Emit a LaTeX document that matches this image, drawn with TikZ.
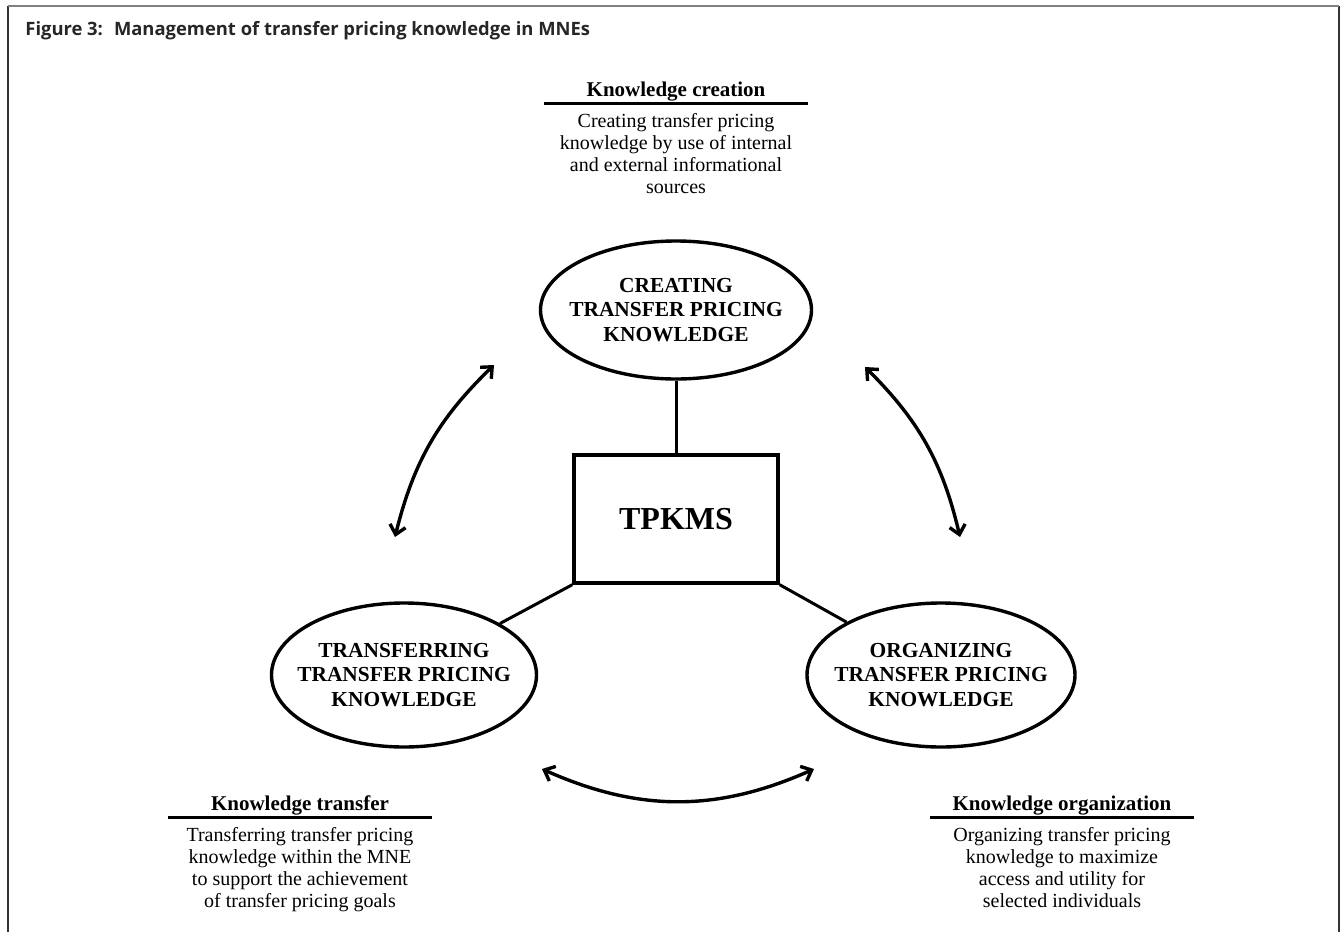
\documentclass[tikz,border=0pt]{standalone}
\usepackage{fontspec}
\setmainfont{Liberation Serif}
\newfontfamily\titlefont{Open Sans}
\usepackage{tikz}
\usetikzlibrary{arrows.meta}
\usetikzlibrary{shapes.geometric}
\usetikzlibrary{positioning}

\begin{document}
\begin{tikzpicture}[x=0.5pt, y=-0.5pt,
    phase/.style={ellipse, draw, line width=1.7pt, minimum width=134pt, minimum height=72pt,
      inner xsep=-10pt, inner ysep=0pt, align=center, font=\fontsize{10.7}{12.25}\selectfont\bfseries},
    link/.style={line width=1.5pt},
    cycle/.style={line width=1.7pt, {Straight Barb[length=4.5pt,width=8pt]}-{Straight Barb[length=4.5pt,width=8pt]}},
    head/.style={minimum width=131.5pt, inner xsep=0pt, inner ysep=0.5pt, text depth=2.5pt,
      anchor=south, font=\fontsize{10.5}{12}\selectfont\bfseries},
    body/.style={inner ysep=5.2pt, align=center, font=\fontsize{10}{11}\selectfont}]
  \useasboundingbox (0,0) rectangle (1340,932);
  % Frame and title
  \draw[black!80, line width=0.8pt] (8,932) -- (8,6);
  \draw[black!80, line width=0.8pt] (1339,6) -- (1339,932);
  \draw[black!50, line width=1pt] (8,6) -- (1339,6);
  \node[anchor=west, inner sep=0pt, text=black!85, font=\titlefont\bfseries\fontsize{9.2}{11}\selectfont]
    (title) at (25,31) {Figure 3:\hspace{0.6em}Management of transfer pricing knowledge in MNEs};

  % Knowledge management system
  \node[draw, line width=1.7pt, minimum width=102pt, minimum height=64pt,
    font=\fontsize{16}{18}\selectfont\bfseries] (tpkms) at (676,519) {TPKMS};
  \node[phase, minimum width=135.5pt, minimum height=69pt] (create) at (676,310)
    {CREATING\\TRANSFER PRICING\\KNOWLEDGE};
  \node[phase, minimum width=132.5pt] (transfer) at (404,675)
    {TRANSFERRING\\TRANSFER PRICING\\KNOWLEDGE};
  \node[phase] (organize) at (941,675)
    {ORGANIZING\\TRANSFER PRICING\\KNOWLEDGE};

  \draw[link] (create) -- (tpkms);
  \draw[link] (tpkms.south west) -- (transfer);
  \draw[link] (tpkms.south east) -- (organize);

  % Cycle arrows
  \coordinate (ltail) at (395,537);
  \coordinate (lhead) at (494,365);
  \coordinate (rtail) at (865,367);
  \coordinate (rhead) at (960,537);
  \coordinate (btail) at (542,769);
  \coordinate (bhead) at (814,769);
  \draw[cycle] (ltail) to[bend left=16] (lhead);
  \draw[cycle] (rtail) to[bend left=16] (rhead);
  \draw[cycle] (btail) to[bend right=24] (bhead);

  % Descriptions
  \node[head] (createhead) at (676,103) {Knowledge creation};
  \draw[link] (createhead.south west) -- (createhead.south east);
  \node[body, below=0pt of createhead] (createtext)
    {Creating transfer pricing\\knowledge by use of internal\\and external informational\\sources};

  \node[head] (transferhead) at (300,817) {Knowledge transfer};
  \draw[link] (transferhead.south west) -- (transferhead.south east);
  \node[body, below=0pt of transferhead] (transfertext)
    {Transferring transfer pricing\\knowledge within the MNE\\to support the achievement\\of transfer pricing goals};

  \node[head] (organizehead) at (1062,817) {Knowledge organization};
  \draw[link] (organizehead.south west) -- (organizehead.south east);
  \node[body, below=0pt of organizehead] (organizetext)
    {Organizing transfer pricing\\knowledge to maximize\\access and utility for\\selected individuals};
\end{tikzpicture}
\end{document}
